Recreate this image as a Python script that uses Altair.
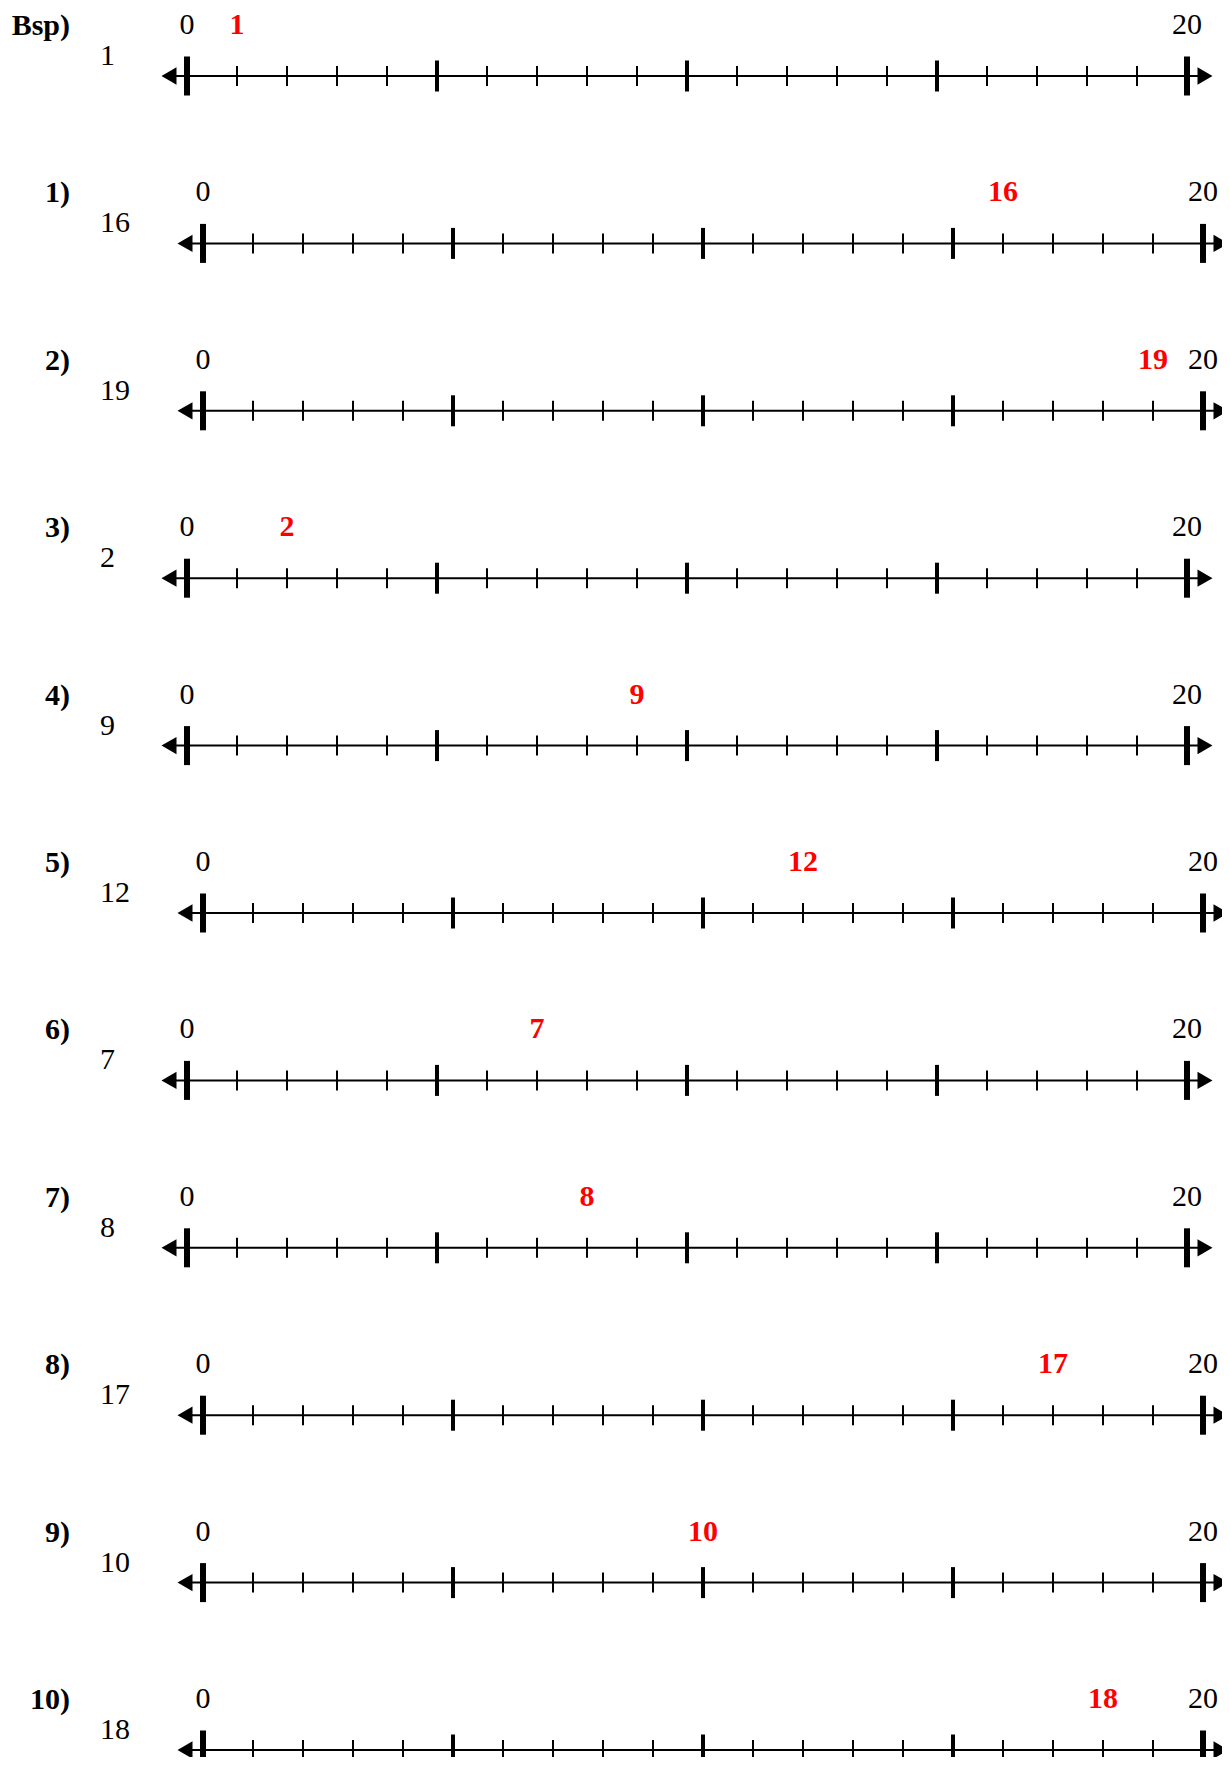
import altair as alt
import pandas as pd

# --- data ---
row_names = ["Bsp)", "1)", "2)", "3)", "4)", "5)", "6)", "7)", "8)", "9)", "10)"]
targets = [1, 16, 19, 2, 9, 12, 7, 8, 17, 10, 18]
indented = [False, True, True, False, False, True, False, False, True, True, True]
line_start = 0
line_end = 20
major_step = 5

# --- layout (style) ---
PX_PER_UNIT = 50.0
W, H = 1214, 1749
SHIFT = 16 / PX_PER_UNIT
X0 = -(187 - 8) / PX_PER_UNIT
X1 = X0 + W / PX_PER_UNIT
ROW_PX = 167.4
Y0 = -(76 - 8) / ROW_PX
Y1 = Y0 + H / ROW_PX
ARROW = 18 / PX_PER_UNIT
FONT = "Liberation Serif"

rows = pd.DataFrame({
    "row": list(range(len(row_names))),
    "name": row_names,
    "target": targets,
    "shift": [SHIFT if s else 0.0 for s in indented],
})
rows["x_start"] = line_start + rows["shift"]
rows["x_end"] = line_end + rows["shift"]
rows["x_target"] = rows["target"] + rows["shift"]
rows["arrow_l"] = rows["x_start"] - ARROW
rows["arrow_r"] = rows["x_end"] + ARROW
rows["lbl0"] = str(line_start)
rows["lbl20"] = str(line_end)
rows["target_str"] = rows["target"].astype(str)

ticks = []
for _, r in rows.iterrows():
    for v in range(line_start, line_end + 1):
        if v in (line_start, line_end):
            kind = "end"
        elif v % major_step == 0:
            kind = "major"
        else:
            kind = "minor"
        ticks.append({"row": r["row"], "x": v + r["shift"], "kind": kind})
ticks = pd.DataFrame(ticks)

xs = alt.Scale(domain=[X0, X1], nice=False, zero=False)
ys = alt.Scale(domain=[Y0, Y1], nice=False, zero=False, reverse=True)
X = lambda f: alt.X(f, type="quantitative", scale=xs, axis=None)
Y = alt.Y("row:Q", scale=ys, axis=None)

base_rows = alt.Chart(rows)
base_ticks = alt.Chart(ticks)

line = base_rows.mark_rule(color="black", strokeWidth=2).encode(
    x=X("arrow_l"), x2="arrow_r", y=Y)

arrow_left = base_rows.mark_point(shape="triangle-left", filled=True, color="black",
                                  size=300, opacity=1, strokeWidth=0).encode(x=X("arrow_l"), y=Y)
arrow_right = base_rows.mark_point(shape="triangle-right", filled=True, color="black",
                                   size=300, opacity=1, strokeWidth=0).encode(x=X("arrow_r"), y=Y)

tick_end = base_ticks.transform_filter("datum.kind == 'end'").mark_tick(
    orient="vertical", size=39, thickness=6, color="black", opacity=1).encode(x=X("x"), y=Y)
tick_major = base_ticks.transform_filter("datum.kind == 'major'").mark_tick(
    orient="vertical", size=31, thickness=4, color="black", opacity=1).encode(x=X("x"), y=Y)
tick_minor = base_ticks.transform_filter("datum.kind == 'minor'").mark_tick(
    orient="vertical", size=20, thickness=2, color="black", opacity=1).encode(x=X("x"), y=Y)

lbl0 = base_rows.mark_text(font=FONT, fontSize=30, color="black", align="center",
                           baseline="alphabetic", dy=-42).encode(x=X("x_start"), y=Y, text="lbl0:N")
lbl20 = base_rows.mark_text(font=FONT, fontSize=30, color="black", align="center",
                            baseline="alphabetic", dy=-42).encode(x=X("x_end"), y=Y, text="lbl20:N")
red = base_rows.mark_text(font=FONT, fontSize=30, fontWeight="bold", color="#ff0000", align="center",
                          baseline="alphabetic", dy=-42).encode(x=X("x_target"), y=Y, text="target_str:N")
names = base_rows.mark_text(font=FONT, fontSize=30, fontWeight="bold", color="black", align="right",
                            baseline="alphabetic", dy=-41).encode(
    x=alt.X(datum=(70 - 187) / PX_PER_UNIT, type="quantitative", scale=xs, axis=None), y=Y, text="name:N")
nums = base_rows.mark_text(font=FONT, fontSize=30, color="black", align="left",
                           baseline="alphabetic", dy=-11).encode(
    x=alt.X(datum=(100 - 187) / PX_PER_UNIT, type="quantitative", scale=xs, axis=None), y=Y, text="target_str:N")

chart = alt.layer(line, tick_minor, tick_major, tick_end, arrow_left, arrow_right,
                  lbl0, lbl20, red, names, nums).properties(
    width=W, height=H, padding=0, autosize="none", background="white",
).configure_view(stroke=None, strokeWidth=0)

chart.save("out.html", embed_options={"renderer": "svg", "actions": False})
